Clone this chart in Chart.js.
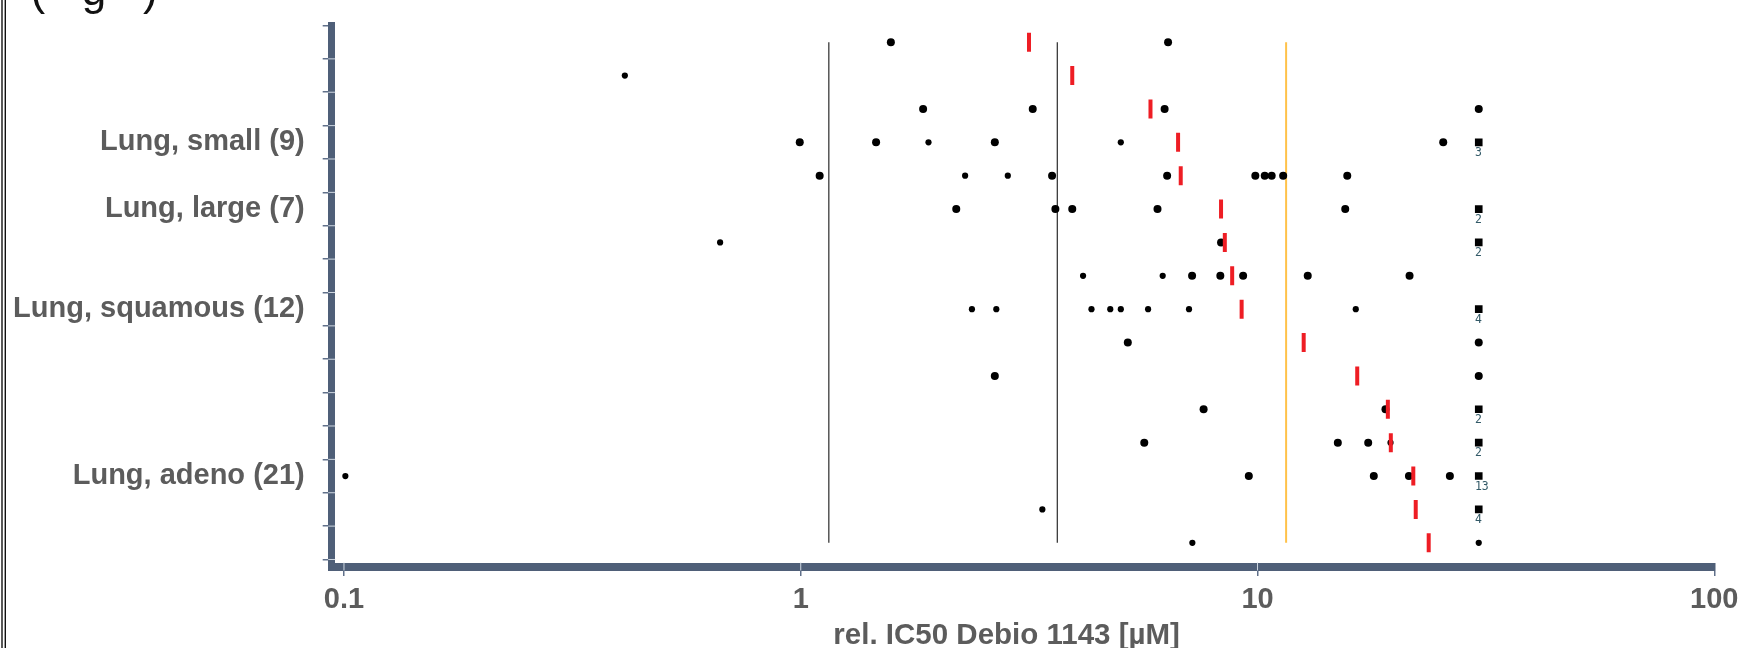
<!DOCTYPE html>
<html>
<head>
<meta charset="utf-8">
<script src="https://cdn.jsdelivr.net/npm/chart.js@4.4.1/dist/chart.umd.min.js"></script>
<style>
  html, body { margin: 0; padding: 0; background: #fff; }
  #wrap { width: 1740px; height: 648px; position: relative; }
</style>
</head>
<body>
<div id="wrap"><canvas id="ic50"></canvas></div>
<script>
// one row per entry, top to bottom; only some rows carry a label
const rowLabels = ['', '', '', 'Lung, small (9)', '', 'Lung, large (7)', '', '',
  'Lung, squamous (12)', '', '', '', '', 'Lung, adeno (21)', '', ''];

// IC50 values per row (uM), large and small dots
const bigDots = [
  [1.575, 6.37],
  [],
  [1.853, 3.22, 6.26, 30.5],
  [0.995, 1.462, 2.66, 25.5],
  [1.10, 3.55, 6.34, 9.89, 10.37, 10.74, 11.38, 15.72],
  [2.19, 3.61, 3.93, 6.04, 15.56],
  [8.32],
  [7.19, 8.29, 9.30, 12.88, 21.52],
  [],
  [5.20, 30.5],
  [2.66, 30.5],
  [7.62, 19.06],
  [5.65, 14.99, 17.47],
  [9.57, 17.97, 21.45, 26.37],
  [],
  []
];
const smallDots = [
  [],
  [0.412],
  [],
  [1.904, 5.02],
  [2.29, 2.84],
  [],
  [0.666],
  [4.15, 6.20],
  [2.37, 2.68, 4.33, 4.76, 5.02, 5.76, 7.08, 16.41],
  [],
  [],
  [],
  [19.55],
  [0.1007],
  [3.38],
  [7.2, 30.5]
];
// red marks (row medians)
const medians = [3.16, 3.93, 5.83, 6.70, 6.79, 8.32, 8.48, 8.80, 9.23, 12.62,
  16.53, 19.29, 19.58, 21.93, 22.2, 23.7];

// stacked values at the top of the range, with how many there are
const cappedRows = [4, 6, 7, 9, 12, 13, 14, 15];
const cappedCounts = [3, 2, 2, 4, 2, 2, 13, 4];
const cappedValue = 30.5;

const blackRefs = [1.152, 3.645];
const orangeRef = 11.55;
const xTicks = [0.1, 1, 10, 100];

const labelGrey = '#5c5c5c';
const axisBlue = '#4f5f78';

function toPoints(rows) {
  const pts = [];
  rows.forEach((vals, i) => vals.forEach(v => pts.push({ x: v, y: i + 1 })));
  return pts;
}

function refLine(v, color, width) {
  return {
    data: [{ x: v, y: 1 }, { x: v, y: rowLabels.length }],
    showLine: true, borderColor: color, borderWidth: width,
    pointRadius: 0, order: 3
  };
}

const countLabels = {
  id: 'countLabels',
  afterDatasetsDraw(chart) {
    const meta = chart.getDatasetMeta(chart.data.datasets.length - 1);
    const ctx = chart.ctx;
    ctx.save();
    ctx.font = '11.5px "DejaVu Sans Mono"';
    ctx.fillStyle = '#335a68';
    ctx.textAlign = 'left';
    meta.data.forEach((pt, i) => ctx.fillText(String(cappedCounts[i]), pt.x - 3.8, pt.y + 13.5));
    ctx.restore();
  }
};

// light separators on the thick axis bars, the frame line and the cut heading
const decor = {
  id: 'decor',
  afterDraw(chart) {
    const { ctx, chartArea, scales } = chart;
    ctx.save();
    ctx.strokeStyle = 'rgba(214,222,232,0.95)';
    ctx.lineWidth = 1;
    scales.y.ticks.forEach(t => {
      if (Number.isInteger(t.value)) return;
      const py = scales.y.getPixelForValue(t.value);
      if (py <= chartArea.top + 1) return;
      ctx.beginPath();
      ctx.moveTo(chartArea.left - 3.5, py);
      ctx.lineTo(chartArea.left + 3.5, py);
      ctx.stroke();
    });
    xTicks.slice(0, 3).forEach(v => {
      const px = scales.x.getPixelForValue(v);
      ctx.beginPath();
      ctx.moveTo(px, chartArea.bottom - 4);
      ctx.lineTo(px, chartArea.bottom + 4);
      ctx.stroke();
    });
    ctx.strokeStyle = '#111';
    ctx.lineWidth = 1.4;
    [2, 5.3].forEach(x => {
      ctx.beginPath();
      ctx.moveTo(x, 0);
      ctx.lineTo(x, chart.height);
      ctx.stroke();
    });
    // panel letter, mostly cut off by the top edge
    ctx.fillStyle = '#111';
    ctx.font = '44px "Liberation Sans"';
    ctx.textBaseline = 'alphabetic';
    ctx.fillText('(   g   )', 30.5, 5);
    ctx.restore();
  }
};

Chart.defaults.font.family = '"Liberation Sans", Arial, sans-serif';

new Chart(document.getElementById('ic50'), {
  type: 'scatter',
  data: {
    datasets: [
      {
        data: medians.map((v, i) => ({ x: v, y: i + 1 })),
        pointStyle: 'line', rotation: 90, radius: 9.5,
        borderColor: '#ee1d24', borderWidth: 4, order: 0
      },
      refLine(blackRefs[0], '#3a3a3a', 1.3),
      refLine(blackRefs[1], '#3a3a3a', 1.3),
      refLine(orangeRef, '#ffc24a', 2),
      {
        data: toPoints(bigDots),
        pointRadius: 4, backgroundColor: '#000', borderWidth: 0, order: 1
      },
      {
        data: toPoints(smallDots),
        pointRadius: 3.1, backgroundColor: '#000', borderWidth: 0, order: 1
      },
      {
        data: cappedRows.map(r => ({ x: cappedValue, y: r })),
        pointStyle: 'rect', pointRadius: 5.4, backgroundColor: '#000', borderWidth: 0, order: 1
      }
    ]
  },
  options: {
    responsive: true,
    maintainAspectRatio: false,
    animation: false,
    layout: { padding: { left: 0, right: 25.7, top: 25.5, bottom: 0 } },
    plugins: { legend: { display: false }, tooltip: { enabled: false } },
    scales: {
      x: {
        type: 'logarithmic', min: 0.094, max: 100,
        afterBuildTicks: (scale) => { scale.ticks = xTicks.map(v => ({ value: v })); },
        afterFit: (scale) => {
          scale.height = 81.5;
          scale.paddingLeft = 0;
          scale.paddingRight = 0;
        },
        ticks: {
          autoSkip: false, maxRotation: 0, padding: 7, color: labelGrey,
          font: { size: 29, weight: 'bold' },
          callback: (v) => String(v)
        },
        grid: { drawOnChartArea: false, tickLength: 9.5, lineWidth: 1.5, color: '#60708a' },
        border: { color: axisBlue, width: 8 },
        title: {
          display: true, text: 'rel. IC50 Debio 1143 [µM]\u00a0\u00a0\u00a0\u00a0',
          color: labelGrey, font: { size: 29.5, weight: 'bold', lineHeight: 1 },
          padding: { top: 0, bottom: -3 }
        }
      },
      y: {
        type: 'linear', reverse: true, min: 0.5, max: 16.71,
        afterBuildTicks: (scale) => {
          const ticks = [];
          for (let i = 0; i <= rowLabels.length; i++) ticks.push({ value: i + 0.5 });
          rowLabels.forEach((l, i) => { if (l) ticks.push({ value: i + 1 }); });
          ticks.sort((a, b) => a.value - b.value);
          scale.ticks = ticks;
        },
        afterFit: (scale) => {
          scale.width = 331.7;
          scale.paddingTop = 0;
          scale.paddingBottom = 0;
        },
        ticks: {
          autoSkip: false, padding: 18, color: labelGrey,
          font: { size: 29, weight: 'bold' },
          callback: (v) => Number.isInteger(v) ? rowLabels[v - 1] : ''
        },
        grid: {
          drawOnChartArea: false, tickLength: 9, lineWidth: 1.5,
          color: (c) => c.tick && Number.isInteger(c.tick.value) ? 'rgba(0,0,0,0)' : '#60708a'
        },
        border: { color: axisBlue, width: 7 }
      }
    }
  },
  plugins: [countLabels, decor]
});
</script>
</body>
</html>
